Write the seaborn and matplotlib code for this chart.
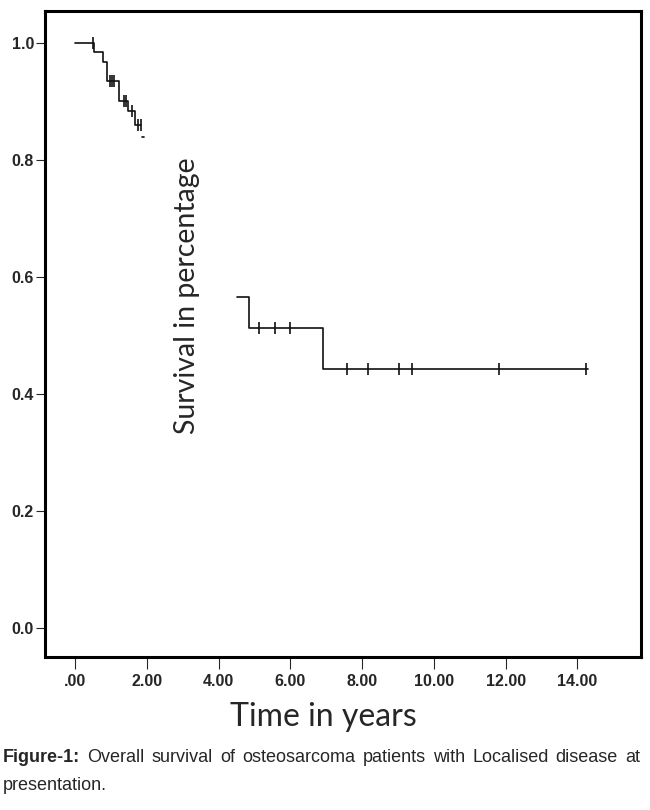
import matplotlib
matplotlib.use("Agg")
import matplotlib.pyplot as plt
from matplotlib import font_manager
import seaborn as sns
import pandas as pd

# Kaplan-Meier steps; the curve is broken where
# the y label covers it
early_times = [0, 0.53, 0.78, 0.89, 1.23, 1.48, 1.67, 1.84]
early_surv = [1.0, 0.985, 0.967, 0.935, 0.90, 0.884, 0.86, 0.86]
stub_times = [1.86, 1.93]
stub_surv = [0.84, 0.84]
late_times = [4.50, 4.86, 6.92, 14.28]
late_surv = [0.565, 0.513, 0.442, 0.442]

# censored observations
cens_times = [0.50, 0.97, 1.03, 1.10, 1.37, 1.42, 1.58, 1.75, 1.83,
              5.13, 5.57, 6.00, 7.57, 8.15, 9.03, 9.40, 11.82, 14.25]
cens_surv = [1.0, 0.935, 0.935, 0.935, 0.90, 0.90, 0.884, 0.86, 0.86,
             0.513, 0.513, 0.513, 0.442, 0.442, 0.442, 0.442, 0.442, 0.442]

x_ticks = [0, 2, 4, 6, 8, 10, 12, 14]
x_tick_labels = [".00", "2.00", "4.00", "6.00", "8.00", "10.00", "12.00", "14.00"]
y_ticks = [0.0, 0.2, 0.4, 0.6, 0.8, 1.0]
y_tick_labels = ["0.0", "0.2", "0.4", "0.6", "0.8", "1.0"]

caption_bold = "Figure-1:"
caption_words = ["Overall", "survival", "of", "osteosarcoma", "patients", "with",
                 "Localised", "disease", "at"]
caption_line2 = "presentation."

steps = pd.concat([
    pd.DataFrame({"t": early_times, "s": early_surv, "seg": "a"}),
    pd.DataFrame({"t": stub_times, "s": stub_surv, "seg": "b"}),
    pd.DataFrame({"t": late_times, "s": late_surv, "seg": "c"}),
])
cens = pd.DataFrame({"t": cens_times, "s": cens_surv})

sns.set_style("white")
names = {f.name for f in font_manager.fontManager.ttflist}
narrow = "Liberation Sans Narrow" if "Liberation Sans Narrow" in names else "Liberation Sans"
plt.rcParams["font.family"] = ["Liberation Sans", "DejaVu Sans"]

fig = plt.figure(figsize=(6.5, 8.1), dpi=100)
ax = fig.add_axes([45 / 650, 1 - 657 / 810, 596 / 650, 646 / 810])

sns.lineplot(data=steps, x="t", y="s", units="seg", estimator=None,
             drawstyle="steps-post", color="#111111", linewidth=1.2,
             sort=False, ax=ax, legend=False)
sns.scatterplot(data=cens, x="t", y="s", marker="|", s=75, linewidth=1.2,
                color="#111111", ax=ax, legend=False)

ax.set_xlim(-0.836, 15.77)
ax.set_ylim(-0.0496, 1.0547)
ax.set_xticks(x_ticks, x_tick_labels)
ax.set_yticks(y_ticks, y_tick_labels)
for sp in ax.spines.values():
    sp.set_linewidth(2.2)
    sp.set_color("black")
ax.tick_params(axis="x", direction="out", length=8.6, width=0.8, pad=4,
               labelsize=11.5, bottom=True)
ax.tick_params(axis="y", direction="out", length=6.5, width=0.8, pad=1.5,
               labelsize=11.5, left=True)
for lab in ax.get_xticklabels() + ax.get_yticklabels():
    lab.set_fontweight("bold")
    lab.set_family(narrow)

ax.set_ylabel("Survival in percentage", family=["Lato", "DejaVu Sans"], fontsize=20.5)
ax.yaxis.set_label_coords(0.238, 0.5596)
ax.yaxis.label.set_va("center")
ax.set_xlabel("Time in years", family=["Lato", "DejaVu Sans"], fontsize=23)
ax.xaxis.set_label_coords(0.467, -0.069)
ax.xaxis.label.set_va("top")

# justified caption line
renderer = fig.canvas.get_renderer()
y1 = 1 - 757 / 810
parts = [fig.text(0, y1, caption_bold, family=[narrow], fontweight="bold",
                  fontsize=13, va="center")]
for w in caption_words:
    parts.append(fig.text(0, y1, w, family=[narrow], fontsize=13, va="center"))
widths = [p.get_window_extent(renderer).width for p in parts]
x0, x1 = 3, 640
gap = (x1 - x0 - sum(widths)) / (len(parts) - 1)
x = x0
for p, w in zip(parts, widths):
    p.set_x(x / 650)
    x += w + gap
fig.text(3 / 650, 1 - 785 / 810, caption_line2, family=[narrow], fontsize=13,
         va="center")

fig.savefig("out.png", dpi=100)
plt.close(fig)
